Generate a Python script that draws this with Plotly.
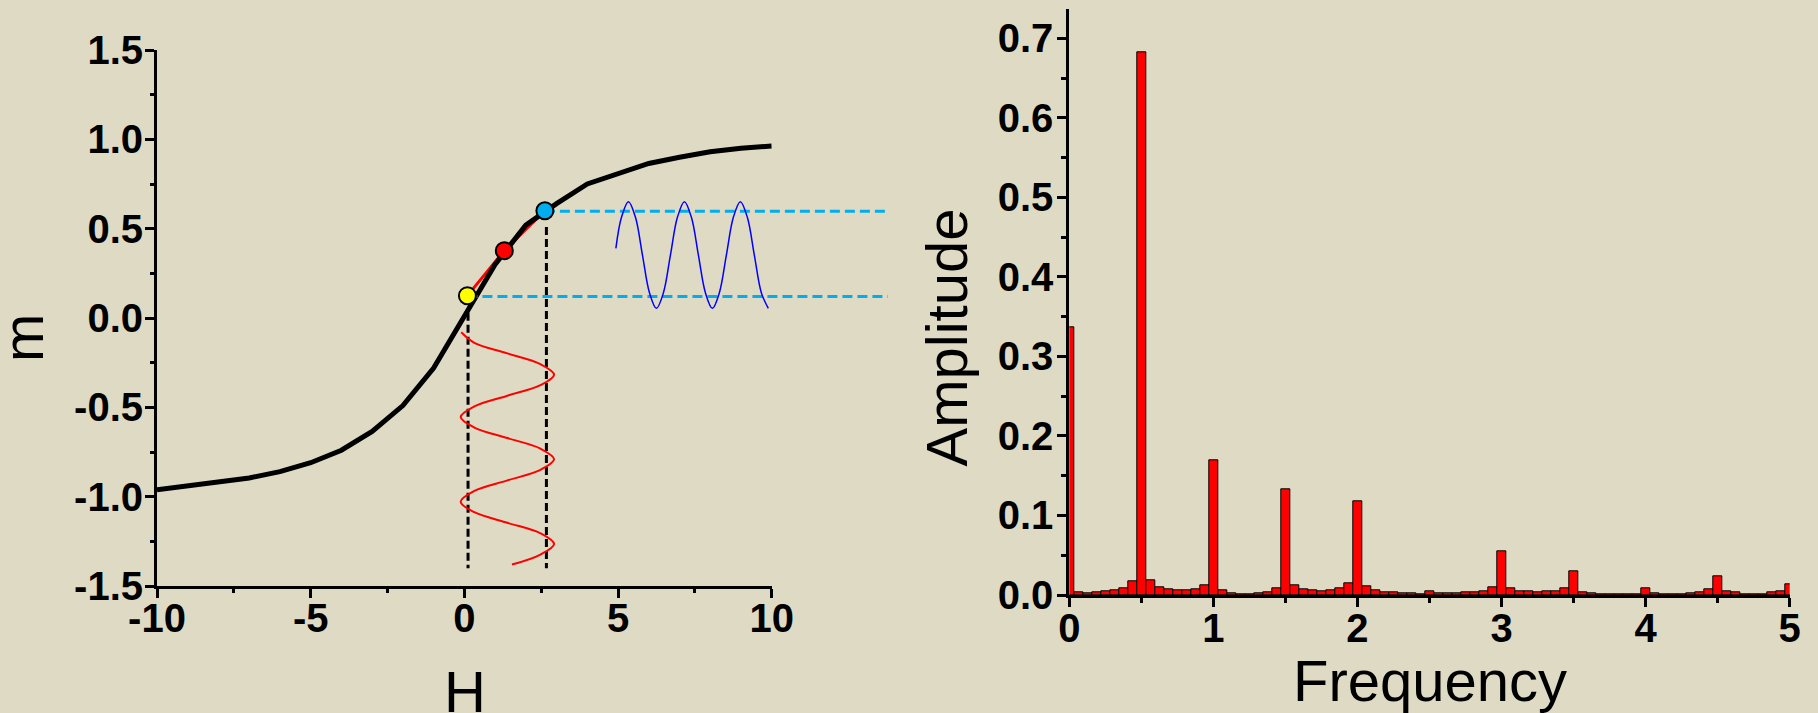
import plotly.graph_objects as go

# ---------------- data ----------------
# magnetisation curve m(H)
field = [-10, -9, -8, -7, -6, -5, -4, -3, -2, -1, 0, 1, 2, 3, 4, 5, 6, 7, 8, 9, 10]
magnet = [-0.962, -0.94, -0.92, -0.895, -0.86, -0.81, -0.74, -0.635, -0.49, -0.28,
          0.01, 0.30, 0.52, 0.64, 0.75, 0.81, 0.865, 0.90, 0.93, 0.95, 0.963]

# working points on the curve (low, middle, high)
point_h = [0.10, 1.30, 2.62]
point_m = [0.125, 0.377, 0.60]
point_colors = ["#ffff00", "#ff0000", "#00aeef"]

# vertical guides from the curve down to the drive signal
guide_h = [0.12, 2.67]
guide_top = [0.03, 0.51]
guide_bottom = -1.40

# horizontal guides at the response extremes
level_m = [0.12, 0.597]
level_start = [0.10, 2.62]
level_end = 13.78

# driving field, drawn along the m direction
drive_h = [-0.10, 0.325, 1.40, 2.475, 2.92, 2.475, 1.40, 0.325, -0.12, 0.325, 1.40,
           2.475, 2.92, 2.475, 1.40, 0.325, -0.12, 0.325, 1.40, 2.475, 2.92, 2.475, 1.55]
drive_m = [-0.08, -0.139, -0.198, -0.258, -0.317, -0.376, -0.435, -0.495, -0.554,
           -0.613, -0.672, -0.731, -0.791, -0.850, -0.909, -0.968, -1.028, -1.087,
           -1.146, -1.205, -1.265, -1.324, -1.38]

# magnetic response
resp_h = [4.93, 5.1125, 5.34, 5.5675, 5.795, 6.0225, 6.25, 6.4775, 6.705, 6.9325, 7.16,
          7.3875, 7.615, 7.8425, 8.07, 8.2975, 8.525, 8.7525, 8.98, 9.2075, 9.435,
          9.6625, 9.89]
resp_m = [0.39, 0.5635, 0.651, 0.5635, 0.3525, 0.1415, 0.054, 0.1415, 0.3525, 0.5635,
          0.651, 0.5635, 0.3525, 0.1415, 0.054, 0.1415, 0.3525, 0.5635, 0.651, 0.5635,
          0.3525, 0.1415, 0.054]

# spectrum of the response
freq_step = 1 / 16
freq = [k * freq_step for k in range(81)]
amp = [0.336, 0.003, 0.0025, 0.0034, 0.0046, 0.0059, 0.008, 0.0172,
       0.683, 0.018, 0.0097, 0.0071, 0.0055, 0.0055, 0.0067, 0.0117,
       0.170, 0.0059, 0.002, 0.001, 0.001, 0.0017, 0.003, 0.0084,
       0.1334, 0.0117, 0.0067, 0.0055, 0.005, 0.0059, 0.008, 0.0147,
       0.1175, 0.0105, 0.0055, 0.0034, 0.003, 0.0017, 0.0017, 0.0013,
       0.0046, 0.0017, 0.0017, 0.0017, 0.003, 0.003, 0.0046, 0.0092,
       0.0554, 0.008, 0.0046, 0.0042, 0.0034, 0.0042, 0.0046, 0.008,
       0.0302, 0.0038, 0.002, 0.001, 0.0008, 0.0008, 0.0008, 0.001,
       0.0084, 0.0017, 0.0013, 0.0013, 0.0013, 0.0017, 0.0038, 0.0067,
       0.0235, 0.0042, 0.003, 0.0013, 0.001, 0.001, 0.003, 0.0046,
       0.0134]

# tick labels
h_ticks = [-10, -5, 0, 5, 10]
h_labels = ["-10", "-5", "0", "5", "10"]
m_ticks = [-1.5, -1.0, -0.5, 0.0, 0.5, 1.0, 1.5]
m_labels = ["-1.5", "-1.0", "-0.5", "0.0", "0.5", "1.0", "1.5"]
f_ticks = [0, 1, 2, 3, 4, 5]
f_labels = ["0", "1", "2", "3", "4", "5"]
a_ticks = [0.0, 0.1, 0.2, 0.3, 0.4, 0.5, 0.6, 0.7]
a_labels = ["0.0", "0.1", "0.2", "0.3", "0.4", "0.5", "0.6", "0.7"]

# ---------------- layout geometry (pixels) ----------------
W, HGT = 1818, 713
BG = "#dfdac4"
CYAN = "#00aeef"

L_X0, L_X1, L_Y0, L_Y1 = 157.0, 771.7, 50.0, 586.0
R_X0, R_X1, R_Y0, R_Y1 = 1069.3, 1789.7, 9.3, 595.0
GUIDE_X1 = 890.0

H_RANGE = [-10, 10]
M_RANGE = [-1.5, 1.5]
F_RANGE = [0, 5]
A_TOP = 0.7 + (38.3 - R_Y0) / ((R_Y1 - 38.3) / 0.7)
A_RANGE = [0, A_TOP]


def px_x(v):
    return v / W


def px_y(v):
    return 1 - v / HGT


# the guide overlay shares the H scale but reaches further right
h_per_px = (H_RANGE[1] - H_RANGE[0]) / (L_X1 - L_X0)
H_EXT_RANGE = [H_RANGE[0], H_RANGE[0] + (GUIDE_X1 - L_X0) * h_per_px]

fig = go.Figure()

# chord joining the working points (under the curve)
fig.add_trace(go.Scatter(x=point_h, y=point_m, mode="lines",
                         line=dict(color="#ff0000", width=3), xaxis="x", yaxis="y"))
# magnetisation curve
fig.add_trace(go.Scatter(x=field, y=magnet, mode="lines",
                         line=dict(color="black", width=5), xaxis="x", yaxis="y"))
# vertical guides
for h, top in zip(guide_h, guide_top):
    fig.add_trace(go.Scatter(x=[h, h], y=[top, guide_bottom], mode="lines",
                             line=dict(color="black", width=3, dash="8px,4px"),
                             xaxis="x", yaxis="y"))
# driving field wave
fig.add_trace(go.Scatter(x=drive_h, y=drive_m, mode="lines",
                         line=dict(color="#ff0000", width=2, shape="spline", smoothing=1.0),
                         xaxis="x", yaxis="y"))

# horizontal guides (overlay axis, not clipped at H = 10)
for m, h0 in zip(level_m, level_start):
    fig.add_trace(go.Scatter(x=[h0, level_end], y=[m, m], mode="lines",
                             line=dict(color=CYAN, width=3, dash="10px,5px"),
                             xaxis="x3", yaxis="y"))
# response wave
fig.add_trace(go.Scatter(x=resp_h, y=resp_m, mode="lines",
                         line=dict(color="#0000ff", width=1.5, shape="spline", smoothing=1.0),
                         xaxis="x3", yaxis="y"))
# working point markers
fig.add_trace(go.Scatter(x=point_h, y=point_m, mode="markers",
                         marker=dict(size=17, color=point_colors,
                                     line=dict(color="black", width=2)),
                         xaxis="x3", yaxis="y"))

# spectrum
fig.add_trace(go.Bar(x=freq, y=amp, width=freq_step,
                     marker=dict(color="#ff0000", line=dict(color="black", width=1)),
                     xaxis="x2", yaxis="y2"))

tickfont = dict(family="Liberation Sans Narrow, Arial Narrow, Arial", size=40,
                color="black", weight="bold")
axis_common = dict(showline=True, linecolor="black", linewidth=3, ticks="outside",
                   ticklen=9, tickwidth=3, tickcolor="black", showgrid=False,
                   zeroline=False, tickfont=tickfont, mirror=False, fixedrange=True,
                   automargin=False)

fig.update_layout(
    width=W, height=HGT,
    margin=dict(l=0, r=0, t=0, b=0, autoexpand=False),
    paper_bgcolor=BG, plot_bgcolor="rgba(0,0,0,0)",
    showlegend=False,
    xaxis=dict(domain=[px_x(L_X0), px_x(L_X1)], range=H_RANGE, anchor="y",
               tickmode="array", tickvals=h_ticks, ticktext=h_labels,
               minor=dict(ticks="outside", ticklen=4, tickwidth=3, tickcolor="black", dtick=2.5),
               ticklabelstandoff=-14, **axis_common),
    yaxis=dict(domain=[px_y(L_Y1), px_y(L_Y0)], range=M_RANGE, anchor="x",
               tickmode="array", tickvals=m_ticks, ticktext=m_labels,
               minor=dict(ticks="outside", ticklen=4, tickwidth=3, tickcolor="black", dtick=0.25),
               ticklabelstandoff=-6, **axis_common),
    xaxis2=dict(domain=[px_x(R_X0), px_x(R_X1)], range=F_RANGE, anchor="y2",
                tickmode="array", tickvals=f_ticks, ticktext=f_labels,
                minor=dict(ticks="outside", ticklen=5, tickwidth=3, tickcolor="black", dtick=0.5),
                ticklabelstandoff=-13, **axis_common),
    yaxis2=dict(domain=[px_y(R_Y1), px_y(R_Y0)], range=A_RANGE, anchor="x2",
                tickmode="array", tickvals=a_ticks, ticktext=a_labels,
                minor=dict(ticks="outside", ticklen=5, tickwidth=3, tickcolor="black", dtick=0.05),
                ticklabelstandoff=-4, **axis_common),
    xaxis3=dict(domain=[px_x(L_X0), px_x(GUIDE_X1)], range=H_EXT_RANGE, anchor="y",
                visible=False, fixedrange=True, automargin=False),
    bargap=0,
)

title_font = dict(family="Arial, Liberation Sans", size=58, color="black")
fig.add_annotation(text="m", x=px_x(22), y=px_y(338), xref="paper", yref="paper",
                   textangle=-90, showarrow=False, font=title_font,
                   xanchor="center", yanchor="middle")
fig.add_annotation(text="H", x=px_x(464.5), y=px_y(691), xref="paper", yref="paper",
                   showarrow=False, font=title_font, xanchor="center", yanchor="middle")
fig.add_annotation(text="Frequency", x=px_x(1429.5), y=px_y(680), xref="paper", yref="paper",
                   showarrow=False, font=title_font, xanchor="center", yanchor="middle")
fig.add_annotation(text="Amplitude", x=px_x(946), y=px_y(337.5), xref="paper", yref="paper",
                   textangle=-90, showarrow=False, font=title_font,
                   xanchor="center", yanchor="middle")

fig.write_html("out.html")
